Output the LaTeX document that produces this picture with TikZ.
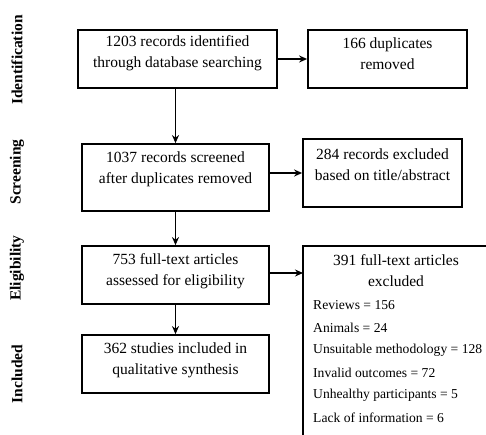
\documentclass[tikz,border=0pt]{standalone}
\usepackage{fontspec}
\setmainfont{Liberation Serif}
\usetikzlibrary{arrows.meta}
\begin{document}
\begin{tikzpicture}[x=1pt,y=-1pt,
  box/.style={draw,line width=1.8pt,inner sep=0pt},
  boxtext/.style={align=center,font=\fontsize{15.5}{21}\selectfont,inner sep=0pt},
  phase/.style={rotate=90,font=\bfseries\fontsize{15.5}{17}\selectfont,inner sep=0pt},
  arr/.style={line width=1.8pt,-{Stealth[length=8pt,width=7pt]}},
  item/.style={anchor=west,font=\fontsize{13.6}{16}\selectfont,inner sep=0pt}]
\useasboundingbox (0,0) rectangle (486,435);
% boxes
\node[box,minimum width=199pt,minimum height=58pt] (b1) at (177.5,59) {};
\node[box,minimum width=159pt,minimum height=58pt] (b2) at (387.5,59) {};
\node[box,minimum width=187pt,minimum height=67pt] (b3) at (175.5,177.5) {};
\node[box,minimum width=159pt,minimum height=68pt] (b4) at (382.5,173) {};
\node[box,minimum width=187pt,minimum height=58pt] (b5) at (175.5,275) {};
\node[box,minimum width=187pt,minimum height=58pt] (b6) at (175.5,364) {};
\draw[line width=1.8pt] (490,246) -- (303,246) -- (303,440);
\coordinate (b7w) at (303,273);
% texts
\node[boxtext] (t1) at (177.5,53.5) {1203 records identified\\through database searching};
\node[boxtext] (t2) at (387.5,53.5) {166 duplicates\\removed};
\node[boxtext] (t3) at (175.5,169) {1037 records screened\\after duplicates removed};
\node[boxtext] (t4) at (382.5,164.5) {284 records excluded\\based on title/abstract};
\node[boxtext] (t5) at (175.5,271) {753 full-text articles\\assessed for eligibility};
\node[boxtext] (t6) at (175.5,360) {362 studies included in\\qualitative synthesis};
\node[boxtext] (t7) at (396,271) {391 full-text articles\\excluded};
\node[item] (i1) at (313,305) {Reviews = 156};
\node[item] (i2) at (313,327.5) {Animals = 24};
\node[item] (i3) at (313,350) {Unsuitable methodology = 128};
\node[item] (i4) at (313,373) {Invalid outcomes = 72};
\node[item] (i5) at (313,395.5) {Unhealthy participants = 5};
\node[item] (i6) at (313,418) {Lack of information = 6};
% phases
\node[phase] (p1) at (17,60) {Identification};
\node[phase] (p2) at (17,172) {Screening};
\node[phase] (p3) at (17,268) {Eligibility};
\node[phase] (p4) at (17,374) {Included};
% arrows
\draw[arr] (b1.south -| b3.north) -- (b3.north);
\draw[arr] (b3) -- (b5);
\draw[arr] (b5) -- (b6);
\draw[arr] (b1.east) -- (b2.west);
\draw[arr] (b3.east |- b4.west) -- (b4.west);
\draw[arr] (b5.east |- b7w) -- (b7w);
\end{tikzpicture}
\end{document}
